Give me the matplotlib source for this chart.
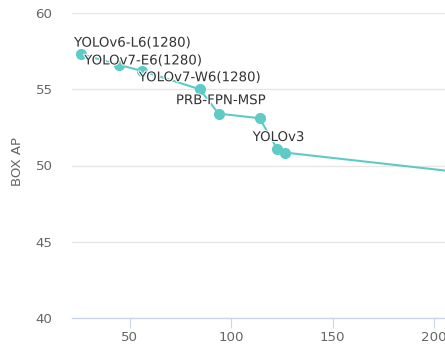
import matplotlib
matplotlib.use("Agg")
import matplotlib.pyplot as plt
import matplotlib.patheffects as pe

fps = [26.2, 44.6, 56.1, 84.5, 93.8, 114.0, 122.8, 126.4, 230.0]
box_ap = [57.3, 56.6, 56.2, 55.0, 53.4, 53.1, 51.05, 50.85, 49.3]
label_names = ["YOLOv6-L6(1280)", "YOLOv7-E6(1280)", "YOLOv7-W6(1280)", "PRB-FPN-MSP", "YOLOv3"]
label_points = [0, 2, 3, 4, 6]
y_ticks = [40, 45, 50, 55, 60]
x_ticks = [50, 100, 150, 200]

W, H = 445, 345
fig = plt.figure(figsize=(W / 100, H / 100), dpi=100)
left, right, top, bottom = 72, 445, 13, 318
ax = fig.add_axes([left / W, (H - bottom) / H, (right - left) / W, (bottom - top) / H])

color = "#5ECBC6"
ax.plot(fps, box_ap, color=color, lw=1.5, marker="o", ms=7, mec=color, mfc=color, zorder=3, clip_on=True)

fs = 9.6
ax.set_xlim(21.6, 205.3)
ax.set_ylim(40, 60)
ax.set_yticks(y_ticks)
ax.set_xticks(x_ticks)
ax.grid(axis="y", color="#E6E6E6", lw=1)
ax.set_axisbelow(True)
for s in ["top", "right", "left"]:
    ax.spines[s].set_visible(False)
ax.spines["bottom"].set_color("#CCD6EB")
ax.spines["bottom"].set_linewidth(1)
ax.tick_params(axis="y", length=0, pad=14, labelsize=fs, labelcolor="#666666")
ax.tick_params(axis="x", length=7.2, width=0.8, color="#CCD6EB", pad=2, labelsize=fs, labelcolor="#666666")
ax.set_ylabel("BOX AP", fontsize=fs, color="#666666")
ax.yaxis.set_label_coords(-(72 - 24) / (right - left), (bottom - 161) / (bottom - top))

offsets = [(51, 11), (1, 10), (0, 11.5), (2, 13), (1, 12)]
for name, idx, off in zip(label_names, label_points, offsets):
    ax.annotate(name, (fps[idx], box_ap[idx]), xytext=off, textcoords="offset pixels",
                ha="center", va="center", fontsize=fs, color="#333333", zorder=4,
                path_effects=[pe.withStroke(linewidth=1.5, foreground="white")])

fig.savefig("out.png", dpi=100)
